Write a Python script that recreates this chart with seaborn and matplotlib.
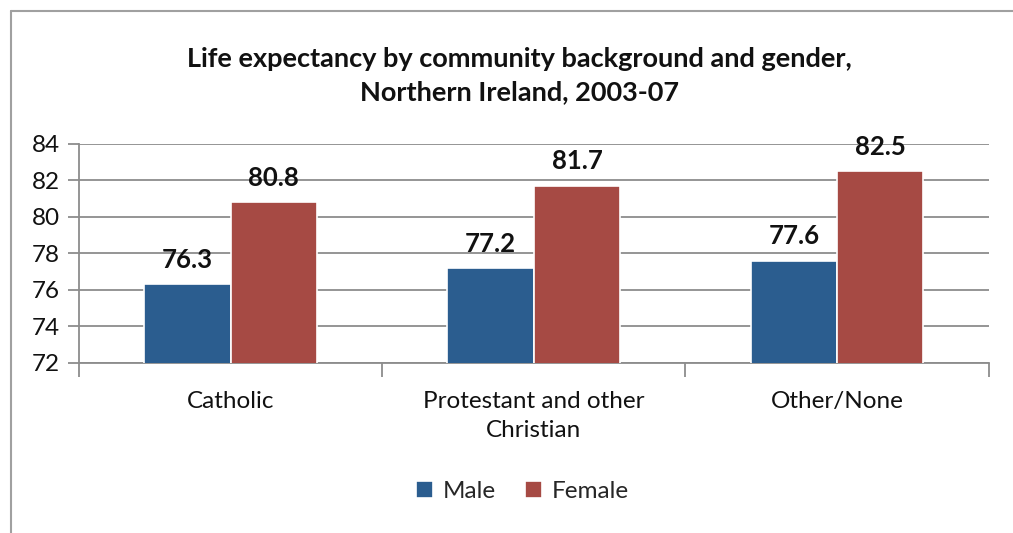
import matplotlib
matplotlib.use("Agg")
import matplotlib.pyplot as plt
import seaborn as sns
import pandas as pd

# Life expectancy values (years)
categories = ["Catholic", "Protestant and other\nChristian", "Other/None"]
male = [76.3, 77.2, 77.6]
female = [80.8, 81.7, 82.5]
genders = ["Male", "Female"]
y_ticks = [72, 74, 76, 78, 80, 82, 84]
title = "Life expectancy by community background and gender,\nNorthern Ireland, 2003-07"

colors = {"Male": "#2B5D8F", "Female": "#A64A44"}
grid_color = "#8C8C8C"
text_color = "#111111"

df = pd.DataFrame({
    "category": categories * 2,
    "gender": ["Male"] * len(categories) + ["Female"] * len(categories),
    "value": male + female,
})

sns.set_theme(style="white")
plt.rcParams["font.family"] = ["Lato", "DejaVu Sans"]

fig = plt.figure(figsize=(10.13, 5.33), dpi=100)
ax = fig.add_axes([0.078, 0.319, 0.898, 0.411])

sns.barplot(data=df, x="category", y="value", hue="gender",
            hue_order=genders, order=categories, palette=colors,
            saturation=1, width=0.57, gap=0.0, edgecolor="white",
            linewidth=1.2, legend=True, ax=ax, zorder=3)

ax.set_ylim(y_ticks[0], y_ticks[-1])
ax.set_yticks(y_ticks)
ax.set_xlim(-0.5, len(categories) - 0.5)
ax.yaxis.grid(True, color=grid_color, linewidth=1.3, zorder=0)
ax.set_axisbelow(True)
ax.set_xlabel("")
ax.set_ylabel("")

for side in ["top", "right"]:
    ax.spines[side].set_visible(False)
for side in ["left", "bottom"]:
    ax.spines[side].set_color(grid_color)
    ax.spines[side].set_linewidth(1.3)

ax.tick_params(axis="y", which="major", left=True, length=8, width=1.3,
               color=grid_color, labelsize=17.5, pad=6, labelcolor=text_color)
ax.tick_params(axis="x", which="major", bottom=False, labelsize=17.5,
               pad=14, labelcolor=text_color)
for lbl in ax.get_xticklabels():
    lbl.set_linespacing(1.5)
ax.set_xticks([i - 0.5 for i in range(len(categories) + 1)], minor=True)
ax.tick_params(axis="x", which="minor", bottom=True, length=10, width=1.3,
               color=grid_color)

# Value labels above each bar
for container in ax.containers:
    ax.bar_label(container, fmt="%.1f", padding=9, fontsize=18.5,
                 fontweight="bold", color=text_color)

handles, labels = ax.get_legend_handles_labels()
ax.legend_.remove()
fig.legend(handles, labels, loc="center", bbox_to_anchor=(0.516, 0.077),
           ncol=2, frameon=False, fontsize=17.5, handlelength=0.7,
           handleheight=0.7, handletextpad=0.4, columnspacing=1.2)

fig.text(0.513, 0.859, title, ha="center", va="center", fontsize=19.5,
         fontweight="bold", color=text_color, linespacing=1.45)

# Outer chart frame (left and top edges)
fig.add_artist(plt.Line2D([0.0105, 0.0105], [0.0, 0.98], color="#A0A0A0",
                          linewidth=1.5, transform=fig.transFigure))
fig.add_artist(plt.Line2D([0.0105, 1.0], [0.98, 0.98], color="#A0A0A0",
                          linewidth=1.5, transform=fig.transFigure))

fig.savefig("out.png", dpi=100, facecolor="white")
